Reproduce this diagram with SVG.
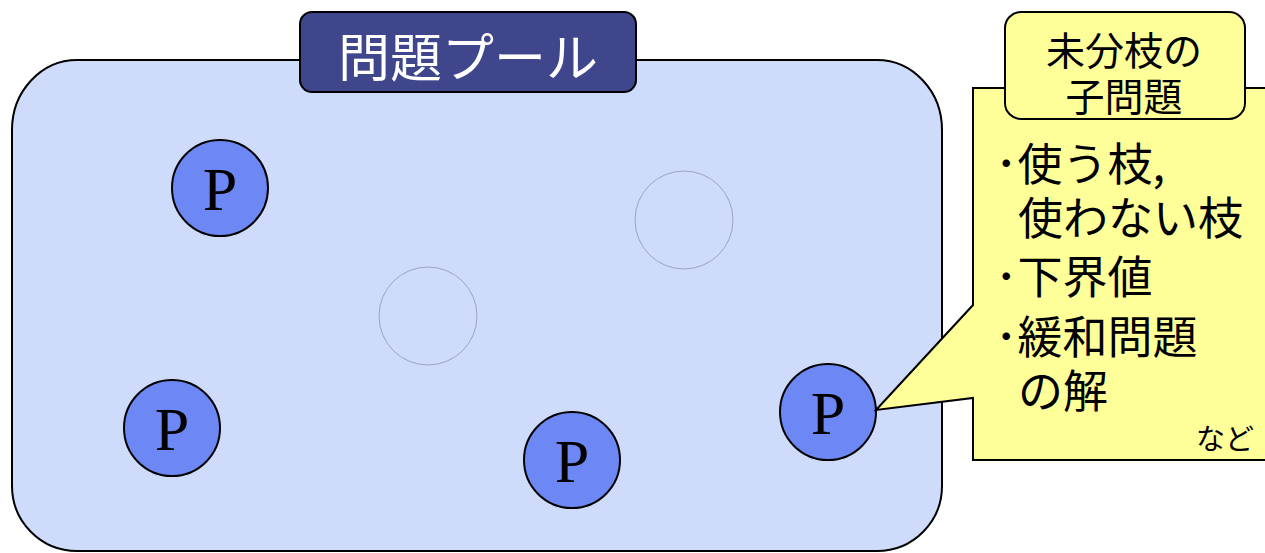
<svg xmlns="http://www.w3.org/2000/svg" width="1265" height="553" viewBox="0 0 1265 553">
<style>
.jp{font-family:"Noto Sans CJK JP","Noto Sans",sans-serif;}
.p circle{fill:#6d88f4;stroke:#000;stroke-width:2;}
.p text{font-family:"Liberation Serif",serif;font-size:62px;fill:#000;text-anchor:middle;}
.ghost{fill:none;stroke:#9aa4c4;stroke-width:1;}
.body{font-size:45px;fill:#000;}
</style>
<g id="pool">
<path d="M77,60 H877 A65,70 0 0 1 942,130 V486 A65,65 0 0 1 877,551 H77 A65,65 0 0 1 12,486 V130 A65,70 0 0 1 77,60 Z" fill="#cedbfb" stroke="#000" stroke-width="2"/>
</g>
<g id="title">
<rect x="300" y="12" width="336" height="80" rx="12" fill="#3f468c" stroke="#000" stroke-width="2"/>
<text class="jp" x="468" y="77" font-size="52" fill="#fff" text-anchor="middle">問題プール</text>
</g>
<g id="ghost1"><circle class="ghost" cx="684" cy="220" r="49"/></g>
<g id="ghost2"><circle class="ghost" cx="428" cy="316" r="49"/></g>
<g id="p1" class="p"><circle cx="220" cy="188" r="48"/><text x="220" y="210">P</text></g>
<g id="p2" class="p"><circle cx="172" cy="428" r="48"/><text x="172" y="450">P</text></g>
<g id="p3" class="p"><circle cx="572" cy="460" r="48"/><text x="572" y="482">P</text></g>
<g id="p4" class="p"><circle cx="828" cy="412" r="48"/><text x="828" y="434">P</text></g>
<g id="callout">
<path d="M1275,88 H973 V305 L876,410 L973,398 V460 H1275" fill="#ffff99" stroke="#000" stroke-width="2"/>
<text class="jp body" x="995" y="181">･使う枝,</text>
<text class="jp body" x="1018" y="235">使わない枝</text>
<text class="jp body" x="995" y="294">･下界値</text>
<text class="jp body" x="995" y="354">･緩和問題</text>
<text class="jp body" x="1018" y="408">の解</text>
<text class="jp" x="1254" y="450" font-size="29" text-anchor="end">など</text>
</g>
<g id="callout-header">
<rect x="1005" y="12" width="240" height="107" rx="16" fill="#ffff99" stroke="#000" stroke-width="2"/>
<text class="jp" x="1124" y="65" font-size="39" text-anchor="middle">未分枝の</text>
<text class="jp" x="1124" y="111" font-size="39" text-anchor="middle">子問題</text>
</g>
<g id="connectors"></g>
</svg>
